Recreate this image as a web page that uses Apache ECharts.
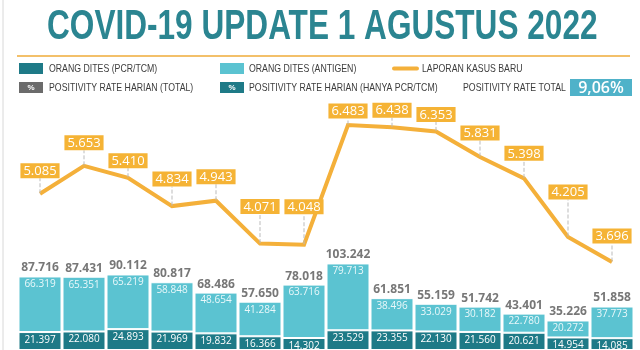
<!DOCTYPE html>
<html><head><meta charset="utf-8">
<script src="https://cdn.jsdelivr.net/npm/echarts@6/dist/echarts.min.js"></script>
<style>html,body{margin:0;padding:0;background:#fff}#c{width:640px;height:350px}</style>
</head><body><div id="c"></div>
<script>
// ---- data ----
const categories = ['19 Jul','20 Jul','21 Jul','22 Jul','23 Jul','24 Jul','25 Jul','26 Jul','27 Jul','28 Jul','29 Jul','30 Jul','31 Jul','1 Agu'];
const pcrTested = [21397,22080,24893,21969,19832,16366,14302,23529,23355,22130,21560,20621,14954,14085];
const antigenTested = [66319,65351,65219,58848,48654,41284,63716,79713,38496,33029,30182,22780,20272,37773];
const newCases = [5085,5653,5410,4834,4943,4071,4048,6483,6438,6353,5831,5398,4205,3696];
const positivityRateTotal = '9,06%';
const titleText = 'COVID-19 UPDATE 1 AGUSTUS 2022';
const seriesNames = ['ORANG DITES (PCR/TCM)', 'ORANG DITES (ANTIGEN)', 'LAPORAN KASUS BARU'];
const legendNotes = ['POSITIVITY RATE HARIAN (TOTAL)', 'POSITIVITY RATE HARIAN (HANYA PCR/TCM)', 'POSITIVITY RATE TOTAL'];

const totals = pcrTested.map((v, i) => v + antigenTested[i]);
const fmt = v => String(v).replace(/\B(?=(\d{3})+(?!\d))/g, '.');

const DARK = '#1e7a87', LIGHT = '#5bc3d1', ORANGE = '#f4b03a', GREY = '#6b6b6b', TXT = '#3c3c3c';
// vertical lift of each case label above its point (layout only)
const labelLift = [22,22,16,26,23,36,37,13,16,16,23,24,44,25];

const chart = echarts.init(document.getElementById('c'), null, {renderer: 'canvas'});
const legFont = '11.5px "Liberation Sans", Arial, sans-serif';
const legText = (x, y, t) => ({type: 'text', x: x, y: y, scaleX: 0.76,
  style: {text: t, fill: TXT, font: legFont, verticalAlign: 'middle'}});
const pctBox = (x, y, c) => ({type: 'group', x: x, y: y, children: [
  {type: 'rect', shape: {x: 0, y: 0, width: 24, height: 11}, style: {fill: c}},
  {type: 'text', x: 12, y: 6, style: {text: '%', fill: '#fff', font: 'bold 8px "Liberation Sans"', align: 'center', verticalAlign: 'middle'}}
]});

chart.setOption({
  backgroundColor: '#fff',
  animation: false,
  grid: [
    {left: 18, width: 616, top: 249.4, height: 111.7},
    {left: 18, width: 616, top: 99.6, height: 245.8}
  ],
  xAxis: [
    {type: 'category', data: categories, gridIndex: 0, show: false},
    {type: 'category', data: categories, gridIndex: 1, show: false}
  ],
  yAxis: [
    {type: 'value', gridIndex: 0, min: 0, max: 120000, show: false},
    {type: 'value', gridIndex: 1, min: 2000, max: 7000, show: false}
  ],
  series: [
    {
      name: seriesNames[0], type: 'bar', stack: 'tes', data: pcrTested,
      xAxisIndex: 0, yAxisIndex: 0, barWidth: 43,
      itemStyle: {color: DARK, borderColor: '#fff', borderWidth: 1},
      label: {show: true, position: 'insideTop', distance: 3, color: '#fff', fontFamily: 'Open Sans', fontSize: 10, formatter: p => fmt(p.value)}
    },
    {
      name: seriesNames[1], type: 'bar', stack: 'tes', data: antigenTested,
      xAxisIndex: 0, yAxisIndex: 0, barWidth: 43,
      itemStyle: {color: LIGHT, borderColor: '#fff', borderWidth: 1},
      label: {show: true, position: 'insideTop', distance: 3, color: '#eaf8fa', fontFamily: 'Open Sans', fontSize: 10, formatter: p => fmt(p.value)}
    },
    {
      name: 'total', type: 'scatter', data: totals, xAxisIndex: 0, yAxisIndex: 0,
      symbolSize: 1, itemStyle: {color: 'rgba(0,0,0,0)'}, silent: true,
      label: {show: true, position: 'top', distance: 2, color: '#555', fontFamily: 'Open Sans', fontWeight: 'bold', fontSize: 12, formatter: p => fmt(p.value)}
    },
    {
      name: seriesNames[2], type: 'line', data: newCases, xAxisIndex: 1, yAxisIndex: 1,
      symbol: 'circle', symbolSize: 1, showSymbol: true, z: 5,
      lineStyle: {color: ORANGE, width: 4, join: 'miter'}, itemStyle: {color: 'rgba(0,0,0,0)'},
      label: {show: true, position: 'top', distance: 5, color: '#fff', backgroundColor: '#f5b335',
        padding: [1, 3, 0, 3], lineHeight: 14, fontFamily: 'Open Sans', fontSize: 13, formatter: p => fmt(p.value)},
      labelLine: {show: true, lineStyle: {color: '#bbb', type: 'dashed', width: 1}},
      labelLayout: p => ({dy: -(labelLift[p.dataIndex] - 12)})
    }
  ],
  graphic: [
    {type: 'line', shape: {x1: 3, y1: 0, x2: 3, y2: 350}, style: {stroke: '#d8d8d8', lineWidth: 1}},
    {type: 'text', x: 47, y: 6, scaleX: 0.752,
      style: {text: titleText, fill: '#2b8591', font: 'bold 42px "Liberation Sans", Arial, sans-serif', verticalAlign: 'top'}},
    {type: 'line', shape: {x1: 17, y1: 56, x2: 630, y2: 56}, style: {stroke: '#f3c06a', lineWidth: 2}},
    // legend row 1
    {type: 'rect', shape: {x: 19, y: 63, width: 24, height: 11}, style: {fill: DARK}},
    legText(49, 68.5, seriesNames[0]),
    {type: 'rect', shape: {x: 220, y: 63, width: 24, height: 11}, style: {fill: LIGHT}},
    legText(249, 68.5, seriesNames[1]),
    {type: 'line', shape: {x1: 394, y1: 68.5, x2: 417, y2: 68.5}, style: {stroke: ORANGE, lineWidth: 4, lineCap: 'round'}},
    legText(422, 68.5, seriesNames[2]),
    // legend row 2
    pctBox(19, 82, GREY),
    legText(49, 87.5, legendNotes[0]),
    pctBox(220, 82, DARK),
    legText(249, 87.5, legendNotes[1]),
    legText(463, 87.5, legendNotes[2]),
    {type: 'group', x: 570, y: 79, children: [
      {type: 'rect', shape: {x: 0, y: 0, width: 62, height: 17}, style: {fill: '#4fb2c9'}},
      {type: 'text', x: 31, y: 9, style: {text: positivityRateTotal, fill: '#fff', font: '600 16px "Open Sans"', align: 'center', verticalAlign: 'middle'}}
    ]}
  ]
});
</script>
</body></html>
